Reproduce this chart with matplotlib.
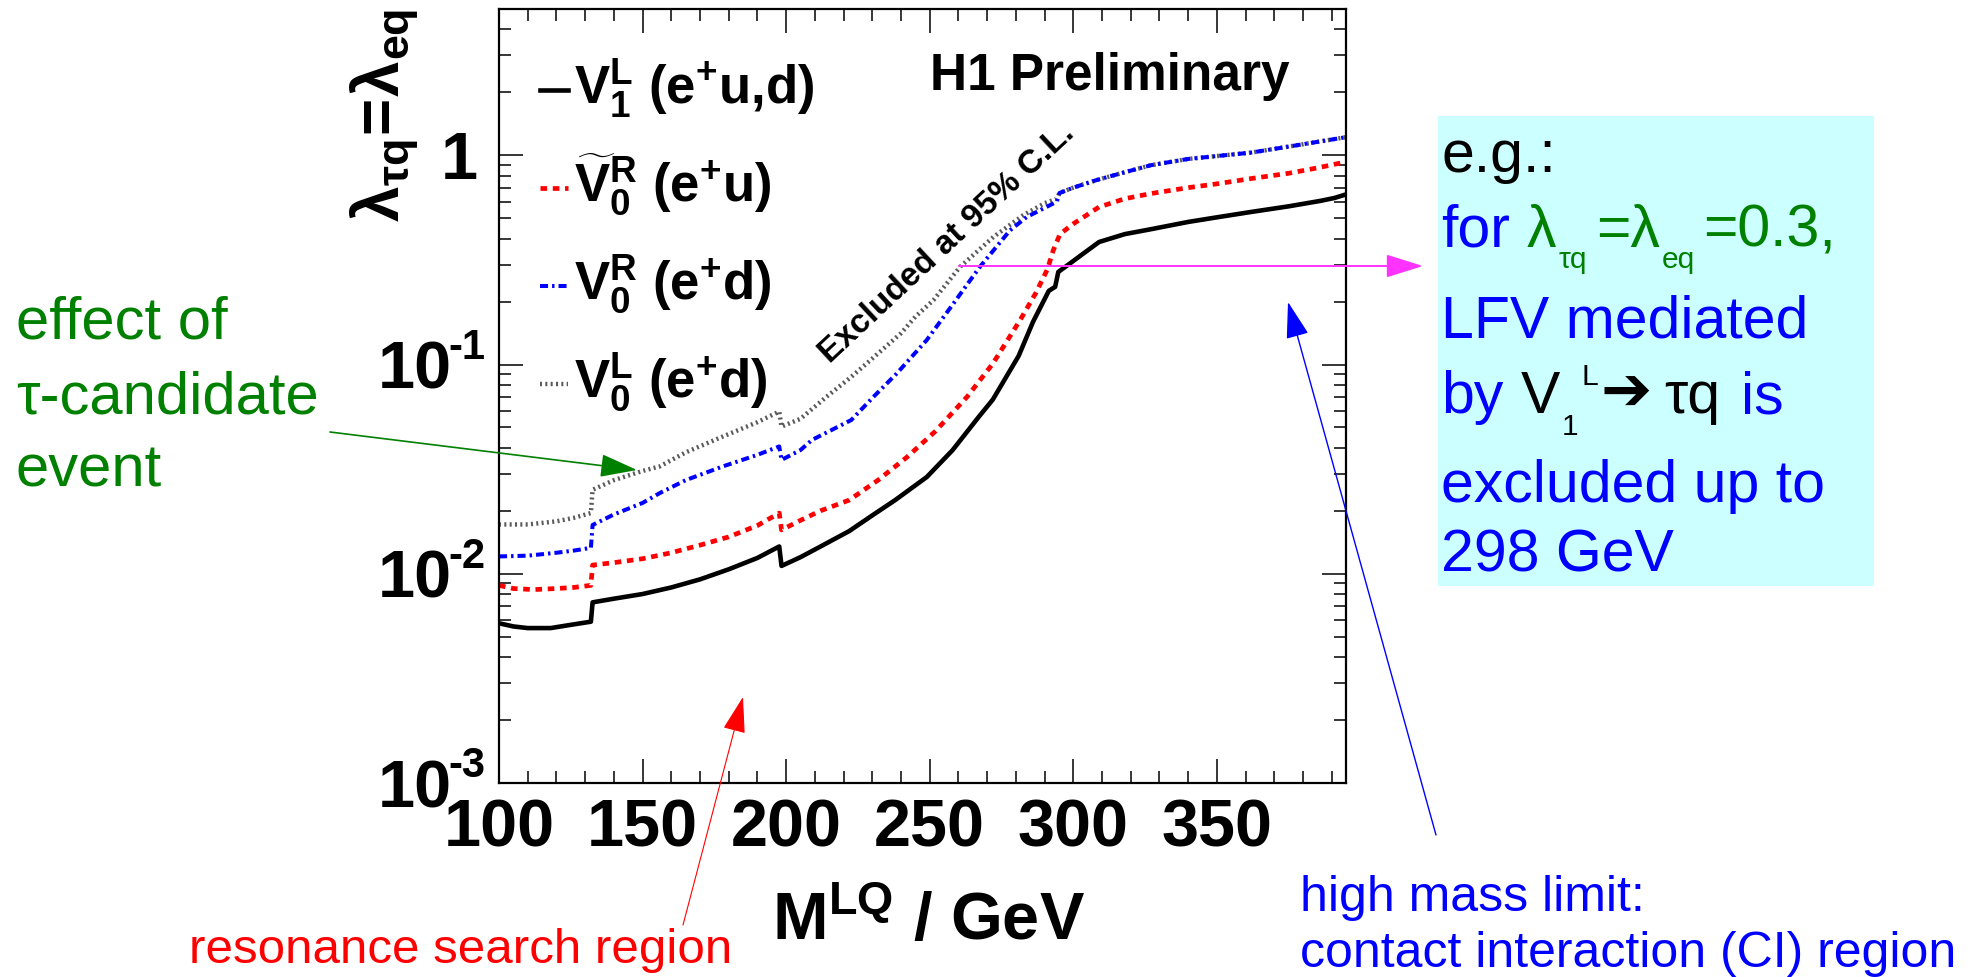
import numpy as np
import matplotlib
matplotlib.use("Agg")
import matplotlib.pyplot as plt
import matplotlib.transforms as mtransforms
from matplotlib.ticker import MultipleLocator, LogLocator, NullFormatter
from matplotlib.patches import Rectangle, FancyArrowPatch
from matplotlib.lines import Line2D

W, H = 1979, 977

# --- limits on lambda vs leptoquark mass ---
mass_v1l = [100, 105, 110, 118, 125, 132, 132.6, 140, 150, 160, 170, 180, 190, 197.6, 198.4,
            205, 212, 222, 230, 238, 249, 258, 267, 272, 281, 286, 291.5, 293.7, 294.8, 298,
            303, 309, 318, 327, 340, 350, 362, 375, 386, 391, 395]
lam_v1l = [0.0058, 0.0056, 0.0055, 0.0055, 0.0057, 0.0059, 0.0073, 0.0076, 0.0080, 0.0086,
           0.0094, 0.0105, 0.0119, 0.0135, 0.0109, 0.0120, 0.0135, 0.0160, 0.0190, 0.0225,
           0.029, 0.039, 0.056, 0.068, 0.11, 0.16, 0.225, 0.235, 0.277, 0.298, 0.335, 0.385,
           0.42, 0.443, 0.48, 0.505, 0.536, 0.57, 0.605, 0.625, 0.65]

mass_v0r_t = [100, 105, 112, 120, 126, 132, 132.6, 140, 150, 160, 170, 180, 190, 197.6, 198.4,
              205, 212, 222, 232, 242, 252, 263, 272, 281.5, 287, 291, 293, 295.4, 300, 309,
              318, 327, 340, 350, 362, 375, 385, 395]
lam_v0r_t = [0.0088, 0.0085, 0.0084, 0.0085, 0.0086, 0.0088, 0.0110, 0.0113, 0.0118, 0.0126,
             0.0137, 0.0150, 0.0170, 0.0195, 0.0162, 0.0180, 0.0200, 0.0225, 0.028, 0.036,
             0.048, 0.070, 0.101, 0.163, 0.22, 0.285, 0.35, 0.42, 0.47, 0.566, 0.62, 0.656,
             0.70, 0.73, 0.774, 0.82, 0.87, 0.93]

mass_v0r = [100, 110, 120, 126, 132, 132.6, 140, 150, 156, 165, 178, 190, 197.6, 198.4, 205,
            209, 222.7, 230.4, 238.5, 249, 258.2, 267.5, 278, 283.8, 290, 294.3, 295.2, 300,
            308, 318, 327, 340, 362, 375, 395]
lam_v0r = [0.0121, 0.0122, 0.0126, 0.0129, 0.0133, 0.0171, 0.0192, 0.0218, 0.0243, 0.028,
           0.0326, 0.037, 0.0406, 0.035, 0.039, 0.0436, 0.0543, 0.070, 0.0905, 0.131, 0.195,
           0.293, 0.438, 0.507, 0.56, 0.60, 0.66, 0.70, 0.76, 0.83, 0.896, 0.96, 1.03, 1.1, 1.22]

mass_v0l = [100, 110, 120, 126, 132, 132.6, 140, 150, 156, 165, 178, 190, 197.6, 198.4, 205,
            214, 222.7, 228, 240, 245, 251.3, 260.6, 272.2, 282.6, 290, 294.3, 295.2, 300, 308,
            318, 327, 340, 362, 375, 395]
lam_v0l = [0.0172, 0.0172, 0.0178, 0.0185, 0.0195, 0.0252, 0.028, 0.031, 0.0326, 0.038,
           0.0453, 0.053, 0.0596, 0.0505, 0.055, 0.070, 0.0873, 0.101, 0.141, 0.169, 0.203,
           0.293, 0.407, 0.517, 0.59, 0.62, 0.66, 0.70, 0.76, 0.83, 0.896, 0.96, 1.03, 1.1, 1.22]

x_ticks = [100, 150, 200, 250, 300, 350]
y_decades = [1e-3, 1e-2, 1e-1, 1]
y_decade_exp = ["-3", "-2", "-1", ""]

plt.rcParams['font.family'] = ['Liberation Sans', 'DejaVu Sans']
plt.rcParams['mathtext.fontset'] = 'custom'
plt.rcParams['mathtext.rm'] = 'Liberation Sans'
plt.rcParams['mathtext.it'] = 'Liberation Sans'
plt.rcParams['mathtext.bf'] = 'Liberation Sans:bold'

GREEN = '#008000'
BLUE = '#0000ff'
RED = '#ff0000'
GRAY = '#5a5a5a'
MAGENTA = '#ff33ff'

fig = plt.figure(figsize=(W / 100, H / 100), dpi=100)
fig.patch.set_facecolor('white')
ax = fig.add_axes([499 / W, 1 - 783 / H, 847 / W, 774 / H])


def fp(x, y):
    # pixel (from top-left) -> figure fraction
    return x / W, 1 - y / H


ax.plot(mass_v1l, lam_v1l, color='black', lw=3.3)
ax.plot(mass_v0r_t, lam_v0r_t, color=RED, lw=3.4, dashes=(1.4, 1.2))
ax.plot(mass_v0l, lam_v0l, color=GRAY, lw=3.2, dashes=(0.45, 0.75))
ax.plot(mass_v0r, lam_v0r, color=BLUE, lw=2.9, dashes=(2.0, 1.0, 0.6, 1.0))

ax.set_yscale('log')
ax.set_xlim(100, 395)
ax.set_ylim(1e-3, 5)
ax.xaxis.set_major_locator(MultipleLocator(50))
ax.xaxis.set_minor_locator(MultipleLocator(10))
ax.yaxis.set_major_locator(LogLocator(base=10, numticks=10))
ax.yaxis.set_minor_locator(LogLocator(base=10, subs=np.arange(2, 10), numticks=50))
ax.yaxis.set_major_formatter(NullFormatter())
ax.yaxis.set_minor_formatter(NullFormatter())
ax.set_xticks(x_ticks)
ax.set_xticklabels([str(v) for v in x_ticks], fontsize=48, fontweight='bold')
ax.tick_params(which='both', direction='in', top=True, right=True, width=1.1)
ax.tick_params(which='major', length=17)
ax.tick_params(which='minor', length=8.6)
ax.tick_params(axis='x', pad=11)
for sp in ax.spines.values():
    sp.set_linewidth(1.6)

# y tick labels in ROOT style (10 with superscript)
for val, ex in zip(y_decades, y_decade_exp):
    base = mtransforms.blended_transform_factory(ax.transAxes, ax.transData)
    if ex:
        t1 = base + mtransforms.ScaledTranslation(-47 / 100, -24 / 100, fig.dpi_scale_trans)
        ax.text(0, val, "10", transform=t1, ha='right', va='baseline', fontsize=48,
                fontweight='bold', clip_on=False)
        t2 = base + mtransforms.ScaledTranslation(-14 / 100, 6 / 100, fig.dpi_scale_trans)
        ax.text(0, val, ex, transform=t2, ha='right', va='baseline', fontsize=30,
                fontweight='bold', clip_on=False)
    else:
        t1 = base + mtransforms.ScaledTranslation(-21 / 100, -24 / 100, fig.dpi_scale_trans)
        ax.text(0, val, "1", transform=t1, ha='right', va='baseline', fontsize=48,
                fontweight='bold', clip_on=False)

# axis titles
fig.text(*fp(928, 940), r'$\mathbf{M^{LQ}\ /\ GeV}$', ha='center', va='baseline', fontsize=48)
fig.text(*fp(385, 115), r'$\mathbf{\lambda_{\tau q}\!=\!\lambda_{eq}}$', ha='center',
         va='center', rotation=90, fontsize=46)

# legend drawn ROOT-like
leg_rows = [104, 202, 300, 398]
leg_texts = [r'$\mathbf{V_{1}^{L}\ (e^{+}u{,}d)}$', r'$\mathbf{\widetilde{V}_{0}^{R}\ (e^{+}u)}$',
             r'$\mathbf{V_{0}^{R}\ (e^{+}d)}$', r'$\mathbf{V_{0}^{L}\ (e^{+}d)}$']
leg_styles = [dict(color='black', lw=3.3),
              dict(color=RED, lw=3.4, dashes=(1.4, 1.2)),
              dict(color=BLUE, lw=2.9, dashes=(2.0, 1.0, 0.6, 1.0)),
              dict(color=GRAY, lw=3.2, dashes=(0.45, 0.75))]
for yb, txt, st in zip(leg_rows, leg_texts, leg_styles):
    x0, yy = fp(540, yb - 14)
    x1, _ = fp(568, yb - 14)
    fig.add_artist(Line2D([x0, x1], [yy, yy], transform=fig.transFigure, **st))
    fig.text(*fp(574, yb), txt, ha='left', va='baseline', fontsize=38)

fig.text(*fp(930, 90), 'H1 Preliminary', ha='left', va='baseline', fontsize=37, fontweight='bold')
fig.text(*fp(947, 243), 'Excluded at 95% C.L.', ha='center', va='center', rotation=43,
         rotation_mode='anchor', fontsize=24, fontweight='bold')

# left annotation
for txt, yb in zip(['effect of', '\u03c4-candidate', 'event'], [338, 413, 487]):
    fig.text(*fp(16, yb), txt, color=GREEN, fontsize=43, ha='left', va='baseline')

fig.text(*fp(189, 963), 'resonance search region', color=RED, fontsize=35.5, ha='left',
         va='baseline')
fig.text(*fp(1300, 911), 'high mass limit:', color=BLUE, fontsize=36, ha='left', va='baseline')
fig.text(*fp(1300, 967), 'contact interaction (CI) region', color=BLUE, fontsize=36, ha='left',
         va='baseline')


def arrow(p0, p1, color, lw):
    a = FancyArrowPatch(fp(*p0), fp(*p1), transform=fig.transFigure,
                        arrowstyle='-|>,head_length=23,head_width=7.2', mutation_scale=1,
                        color=color, lw=lw, shrinkA=0, shrinkB=0)
    fig.add_artist(a)


arrow((330, 432), (637, 470), GREEN, 1.2)
arrow((683, 925), (743, 697), RED, 0.8)
arrow((1436, 835), (1288, 302), BLUE, 1.0)
arrow((959, 266), (1423, 266), MAGENTA, 1.4)

# info box
bx0, by1 = fp(1438, 586)
fig.add_artist(Rectangle((bx0, by1), (1874 - 1438) / W, (586 - 116) / H,
                         transform=fig.transFigure, facecolor='#ccffff', edgecolor='none'))
BIG, SMALL = 42.5, 21.6
pieces = [
    ('e.g.:', 1441, 172, 'black', BIG),
    ('for', 1441, 247, BLUE, BIG),
    ('\u03bb', 1527, 247, GREEN, BIG),
    ('\u03c4q', 1559, 268, GREEN, SMALL),
    ('=\u03bb', 1596, 247, GREEN, BIG),
    ('eq', 1662, 268, GREEN, SMALL),
    ('=0.3,', 1703, 247, GREEN, BIG),
    ('LFV mediated', 1441, 337, BLUE, BIG),
    ('by', 1441, 413, BLUE, BIG),
    ('V', 1521, 413, 'black', BIG),
    ('1', 1562, 435, 'black', SMALL),
    ('L', 1582, 385, 'black', SMALL),
    ('\u03c4q', 1664, 413, 'black', BIG),
    ('is', 1741, 413, BLUE, BIG),
    ('excluded up to', 1441, 502, BLUE, BIG),
    ('298 GeV', 1441, 572, BLUE, BIG),
]
for s, x, y, c, size in pieces:
    fig.text(*fp(x, y), s, color=c, fontsize=size, ha='left', va='baseline')
fig.text(*fp(1600, 394), '\u2794', color='black', fontsize=44, ha='left', va='center',
         family=['DejaVu Sans'], fontweight='bold')

fig.savefig('out.png', dpi=100)
